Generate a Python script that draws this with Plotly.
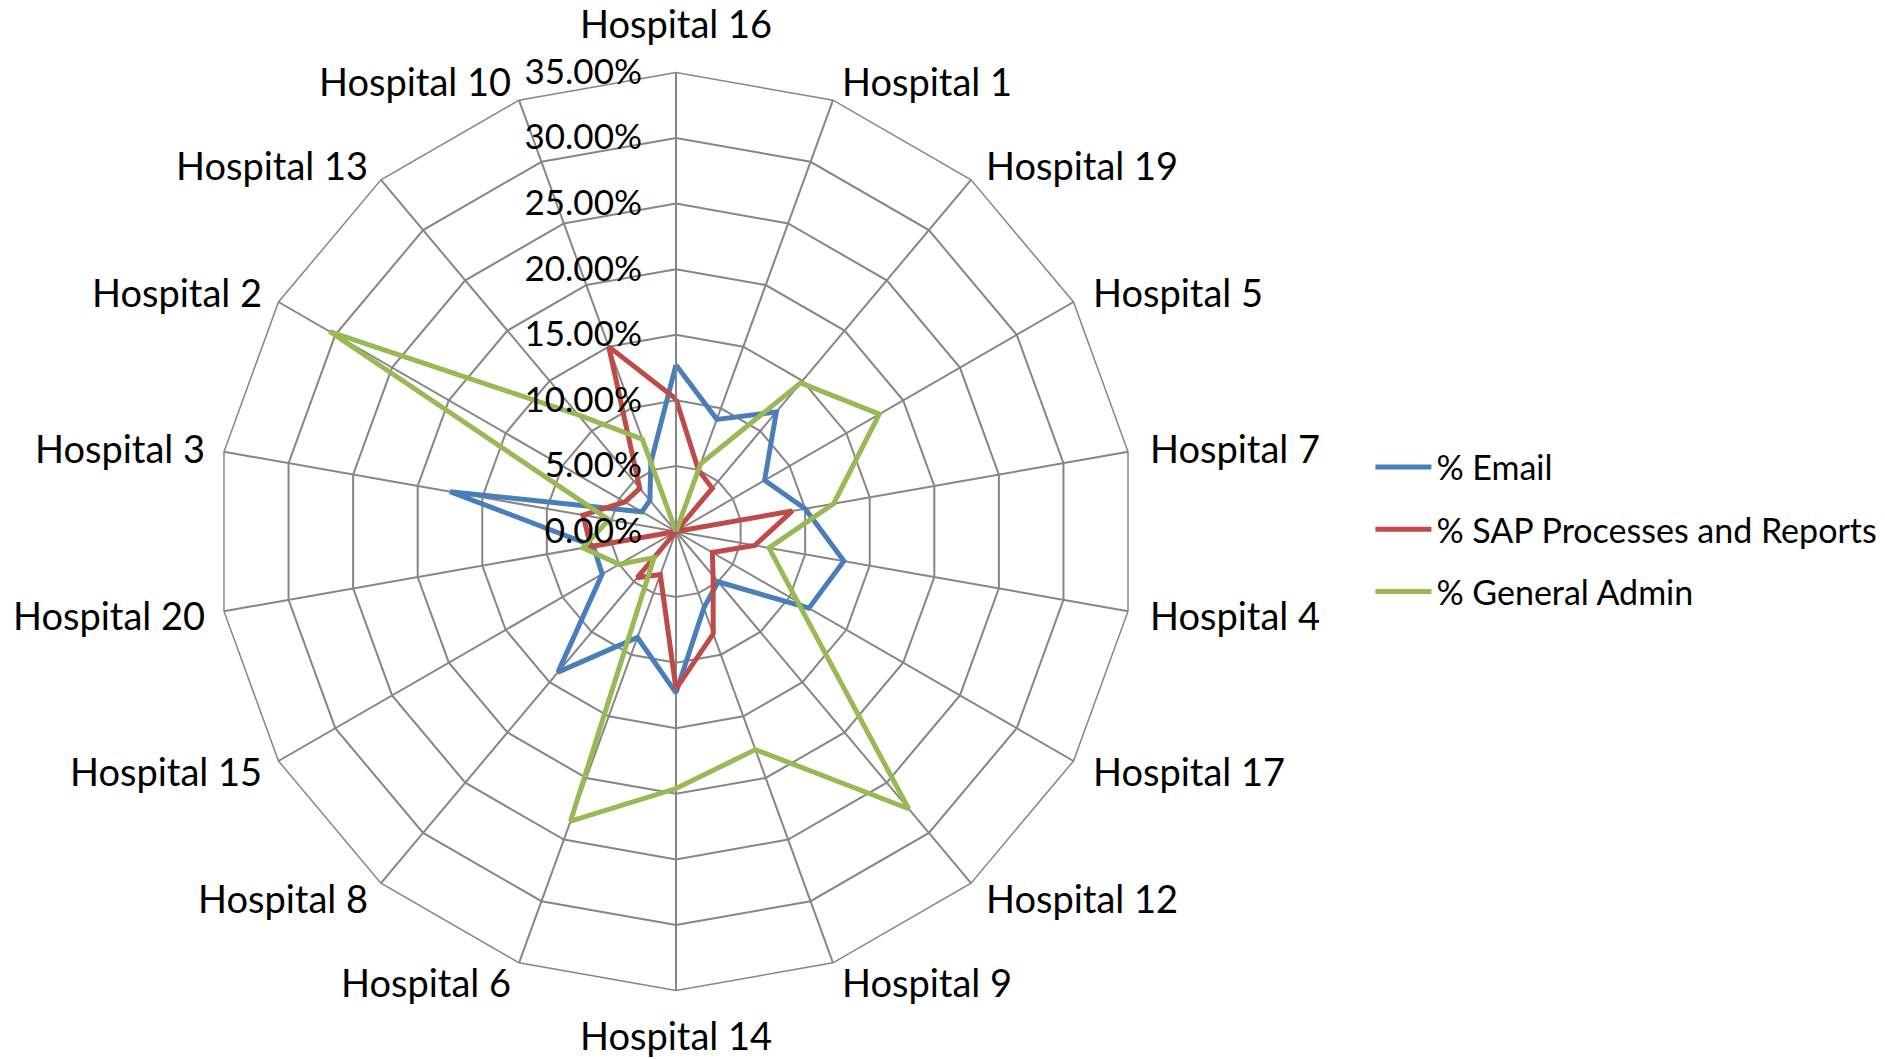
import math
import plotly.graph_objects as go

# Hospitals in clockwise order starting at the top of the radar
hospitals = [
    "Hospital 16", "Hospital 1", "Hospital 19", "Hospital 5", "Hospital 7",
    "Hospital 4", "Hospital 17", "Hospital 12", "Hospital 9", "Hospital 14",
    "Hospital 6", "Hospital 8", "Hospital 15", "Hospital 20", "Hospital 3",
    "Hospital 2", "Hospital 13", "Hospital 10",
]

# Share of time per activity (fractions)
email = [0.127, 0.091, 0.119, 0.078, 0.100, 0.130, 0.117, 0.050, 0.062,
         0.123, 0.086, 0.140, 0.065, 0.064, 0.175, 0.030, 0.031, 0.056]
sap = [0.101, 0.050, 0.043, 0.000, 0.090, 0.061, 0.032, 0.044, 0.083,
       0.120, 0.035, 0.046, 0.000, 0.066, 0.072, 0.045, 0.043, 0.150]
admin = [0.000, 0.055, 0.148, 0.179, 0.122, 0.072, 0.107, 0.276, 0.177,
         0.196, 0.235, 0.026, 0.050, 0.072, 0.052, 0.305, 0.116, 0.075]

series_names = ["% Email", "% SAP Processes and Reports", "% General Admin"]
series_values = [email, sap, admin]
series_colors = ["#4A7EBB", "#BE4B48", "#98B954"]

radial_ticks = [0.0, 0.05, 0.10, 0.15, 0.20, 0.25, 0.30, 0.35]

FONT = "Lato"
FS = 38
GRID = "#868686"

fig = go.Figure()
for name, vals, col in zip(series_names, series_values, series_colors):
    fig.add_trace(go.Scatterpolar(
        r=vals + vals[:1],
        theta=hospitals + hospitals[:1],
        mode="lines",
        name=name,
        legendgroup=name,
        line=dict(color=col, width=5),
    ))

W, H = 1885, 1059
cx, cy, rad = 676, 531.5, 459

# Category labels sit just outside each outer vertex, anchored on the
# side facing the centre so they hug the polygon like spreadsheet radars.
label_annotations = []
n = len(hospitals)
for k, name in enumerate(hospitals):
    ang = math.radians(360.0 * k / n)
    s, c = math.sin(ang), math.cos(ang)
    vx = cx + rad * s
    vy = cy - rad * c
    if abs(s) < 1e-6:
        xanchor = "center"
        if c > 0:
            yanchor, yshift = "bottom", 24
        else:
            yanchor, yshift = "top", -19
        xshift = 0
    else:
        xanchor = "left" if s > 0 else "right"
        yanchor = "middle"
        xshift = (20 if s > 0 else 17) * s
        yshift = 20 * c
    label_annotations.append(dict(
        text=name, showarrow=False,
        xref="paper", yref="paper",
        x=vx / W, y=1 - vy / H,
        xanchor=xanchor, yanchor=yanchor,
        xshift=xshift, yshift=yshift,
        font=dict(family=FONT, size=FS, color="black"),
    ))

fig.update_layout(
    width=W, height=H,
    margin=dict(l=0, r=0, t=0, b=0, autoexpand=False),
    paper_bgcolor="white",
    plot_bgcolor="white",
    font=dict(family=FONT, size=FS, color="black"),
    annotations=label_annotations,
    polar=dict(
        domain=dict(x=[(cx - rad) / W, (cx + rad) / W],
                    y=[(H - cy - rad) / H, (H - cy + rad) / H]),
        bgcolor="white",
        gridshape="linear",
        angularaxis=dict(
            direction="clockwise",
            rotation=90,
            categoryorder="array",
            categoryarray=hospitals,
            showline=True,
            linecolor=GRID,
            linewidth=1.5,
            gridcolor=GRID,
            gridwidth=1.5,
            ticks="",
            showticklabels=False,
        ),
        radialaxis=dict(
            range=[0, 0.35],
            tickvals=radial_ticks,
            tickformat=".2%",
            angle=90,
            tickangle=90,
            side="counterclockwise",
            showline=True,
            linecolor=GRID,
            linewidth=1.5,
            gridcolor=GRID,
            gridwidth=1.5,
            ticks="outside",
            ticklen=21,
            tickcolor="rgba(0,0,0,0)",
            tickfont=dict(family=FONT, size=35, color="black"),
        ),
    ),
    legend=dict(
        x=0.727, y=0.5, xanchor="left", yanchor="middle",
        font=dict(family=FONT, size=34, color="black"),
        bgcolor="rgba(0,0,0,0)",
        itemwidth=56,
        tracegroupgap=15,
    ),
)

fig.write_html("out.html")
